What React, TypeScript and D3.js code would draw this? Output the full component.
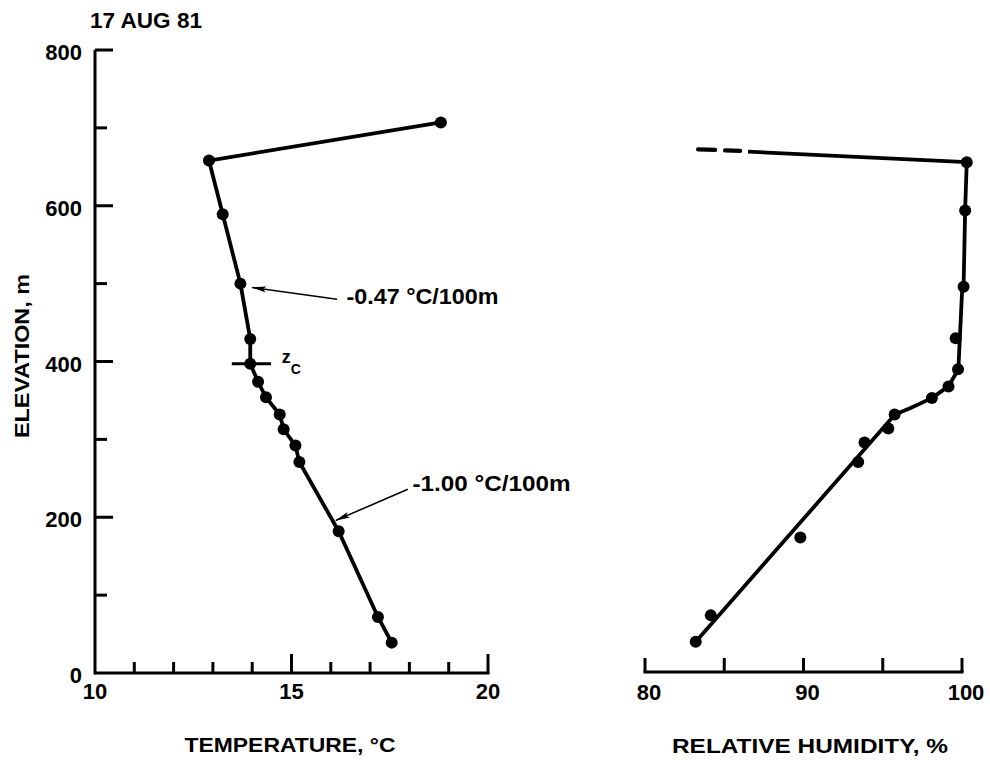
import React from "react";
import * as d3 from "d3";

// Sounding of 17 Aug 81: elevation (m) vs. temperature (°C) and relative humidity (%)
const tempElev = [707, 658, 589, 500, 429, 397, 374, 354, 332, 313, 292, 271, 182, 72, 39];
const tempVals = [18.8, 12.9, 13.25, 13.7, 13.95, 13.95, 14.15, 14.35, 14.7, 14.8, 15.1, 15.2, 16.2, 17.2, 17.55];

const rhElev = [656, 594, 496, 430, 390, 368, 353, 332, 314, 296, 271, 174, 74, 40];
const rhVals = [100.3, 100.2, 100.1, 99.6, 99.75, 99.15, 98.1, 95.75, 95.35, 93.85, 93.45, 89.8, 84.15, 83.2];

// Smoothed humidity profile drawn through the observations
const rhFitElev = [669.5, 656, 596, 496, 488, 390, 368, 353, 340, 332, 40];
const rhFitVals = [86.5, 100.3, 100.2, 100.1, 100.0, 99.77, 99.14, 98.09, 96.72, 95.77, 83.2];
// Extrapolated (dashed) continuation above the inversion
const rhDashElev = [670.5, 672.5];
const rhDashVals = [86.0, 83.35];

const elevTicks = [0, 100, 200, 300, 400, 500, 600, 700, 800];
const elevLabels = [0, 200, 400, 600, 800];
const tempTicks = [11, 12, 13, 14, 15, 16, 17, 18, 19, 20];
const tempMajor = [15, 20];
const tempLabels = [10, 15, 20];
const rhTicks = [80, 85, 90, 95, 100];
const rhLabels = [80, 90, 100];

const zcElev = 397;
const lapseLabels = ["-0.47 °C/100m", "-1.00 °C/100m"];

const FONT = "'Liberation Sans', Arial, Helvetica, sans-serif";

export default function App() {
  const y = d3.scaleLinear().domain([0, 800]).range([673, 50]);
  const xT = d3.scaleLinear().domain([10, 20]).range([95, 488]);
  const xR = d3.scaleLinear().domain([80, 100]).range([645, 962]);

  const tempPts = tempElev.map((e, i) => [xT(tempVals[i]), y(e)] as [number, number]);
  const rhPts = rhElev.map((e, i) => [xR(rhVals[i]), y(e)] as [number, number]);
  const rhFit = rhFitElev.map((e, i) => [xR(rhFitVals[i]), y(e)] as [number, number]);
  const rhDash = rhDashElev.map((e, i) => [xR(rhDashVals[i]), y(e)] as [number, number]);

  const line = d3.line();
  const axisW = 3;
  const dataW = 3.8;
  const dotR = 6;

  // Annotation anchors in data units (temperature, elevation)
  const ann = [
    { tip: [14.0, 495], tail: [16.16, 480], text: [16.4, 474], width: 152 },
    { tip: [16.13, 196], tail: [17.96, 236], text: [18.08, 234], width: 158 },
  ];

  return (
    <svg
      width={990}
      height={761}
      style={{ position: "absolute", left: 0, top: 0, background: "#fff" }}
      fontFamily={FONT}
      fontWeight="bold"
    >
      <defs>
        <marker
          id="arrowhead"
          viewBox="0 0 15 8"
          refX="14"
          refY="4"
          markerWidth="15"
          markerHeight="8"
          markerUnits="userSpaceOnUse"
          orient="auto"
        >
          <path d="M0,1 L15,4 L0,7 L3,4 Z" fill="#000" />
        </marker>
      </defs>

      <rect width={990} height={761} fill="#fff" />

      {/* Title */}
      <text x={90} y={28} fontSize={22} textLength={112} lengthAdjust="spacingAndGlyphs">
        17 AUG 81
      </text>

      {/* Elevation axis */}
      <line x1={xT(10)} x2={xT(10)} y1={y(0) + 1.5} y2={y(800)} stroke="#000" strokeWidth={axisW} />
      {elevTicks
        .filter((t) => t > 0)
        .map((t) => (
          <line
            key={t}
            x1={xT(10)}
            x2={xT(10) + (elevLabels.includes(t) ? 18 : 12)}
            y1={y(t)}
            y2={y(t)}
            stroke="#000"
            strokeWidth={axisW}
          />
        ))}
      {elevLabels.map((t) => (
        <text key={t} x={82} y={y(t) + 10} fontSize={22} textAnchor="end">
          {t}
        </text>
      ))}
      <text
        transform={`translate(29,${356}) rotate(-90)`}
        fontSize={21}
        textAnchor="middle"
        textLength={164}
        lengthAdjust="spacingAndGlyphs"
      >
        ELEVATION, m
      </text>

      {/* Temperature axis */}
      <line x1={xT(10)} x2={xT(20) + 1.5} y1={y(0)} y2={y(0)} stroke="#000" strokeWidth={axisW} />
      {tempTicks.map((t) => (
        <line
          key={t}
          x1={xT(t)}
          x2={xT(t)}
          y1={y(0)}
          y2={y(0) - (tempMajor.includes(t) ? 19 : 11)}
          stroke="#000"
          strokeWidth={axisW}
        />
      ))}
      {tempLabels.map((t) => (
        <text key={t} x={xT(t)} y={699} fontSize={22} textAnchor="middle">
          {t}
        </text>
      ))}
      <text x={290} y={752} fontSize={21} textAnchor="middle" textLength={211} lengthAdjust="spacingAndGlyphs">
        TEMPERATURE, °C
      </text>

      {/* Humidity axis */}
      <line x1={xR(80) - 1.5} x2={xR(100) + 1.5} y1={y(0) - 1} y2={y(0) - 1} stroke="#000" strokeWidth={axisW} />
      {rhTicks.map((t) => (
        <line key={t} x1={xR(t)} x2={xR(t)} y1={y(0) - 1} y2={y(0) - 15} stroke="#000" strokeWidth={axisW} />
      ))}
      {rhLabels.map((t) => (
        <text key={t} x={xR(t) + 4} y={700} fontSize={22} textAnchor="middle">
          {t}
        </text>
      ))}
      <text x={810} y={753} fontSize={21} textAnchor="middle" textLength={276} lengthAdjust="spacingAndGlyphs">
        RELATIVE HUMIDITY, %
      </text>

      {/* Temperature profile */}
      <path d={line(tempPts) ?? ""} fill="none" stroke="#000" strokeWidth={dataW} strokeLinejoin="round" />
      {tempPts.map(([px, py], i) => (
        <circle key={i} cx={px} cy={py} r={dotR} fill="#000" />
      ))}

      {/* Condensation level marker */}
      <line x1={xT(13.48)} x2={xT(14.48)} y1={y(zcElev)} y2={y(zcElev)} stroke="#000" strokeWidth={3} />
      <text x={xT(14.75)} y={y(zcElev) - 1} fontSize={18}>
        z
        <tspan x={xT(14.98)} dy={11} fontSize={14}>
          C
        </tspan>
      </text>

      {/* Lapse-rate annotations */}
      {ann.map((a, i) => (
        <g key={i}>
          <line
            x1={xT(a.tail[0])}
            y1={y(a.tail[1])}
            x2={xT(a.tip[0])}
            y2={y(a.tip[1])}
            stroke="#000"
            strokeWidth={1.6}
            markerEnd="url(#arrowhead)"
          />
          <text
            x={xT(a.text[0])}
            y={y(a.text[1])}
            fontSize={22}
            textLength={a.width}
            lengthAdjust="spacingAndGlyphs"
          >
            {lapseLabels[i]}
          </text>
        </g>
      ))}

      {/* Humidity profile */}
      <path d={line(rhFit) ?? ""} fill="none" stroke="#000" strokeWidth={dataW} strokeLinejoin="round" />
      <path
        d={line(rhDash) ?? ""}
        fill="none"
        stroke="#000"
        strokeWidth={dataW + 0.5}
        strokeDasharray="15,10,17,100"
        strokeLinecap="round"
      />
      {rhPts.map(([px, py], i) => (
        <circle key={i} cx={px} cy={py} r={dotR} fill="#000" />
      ))}
    </svg>
  );
}
